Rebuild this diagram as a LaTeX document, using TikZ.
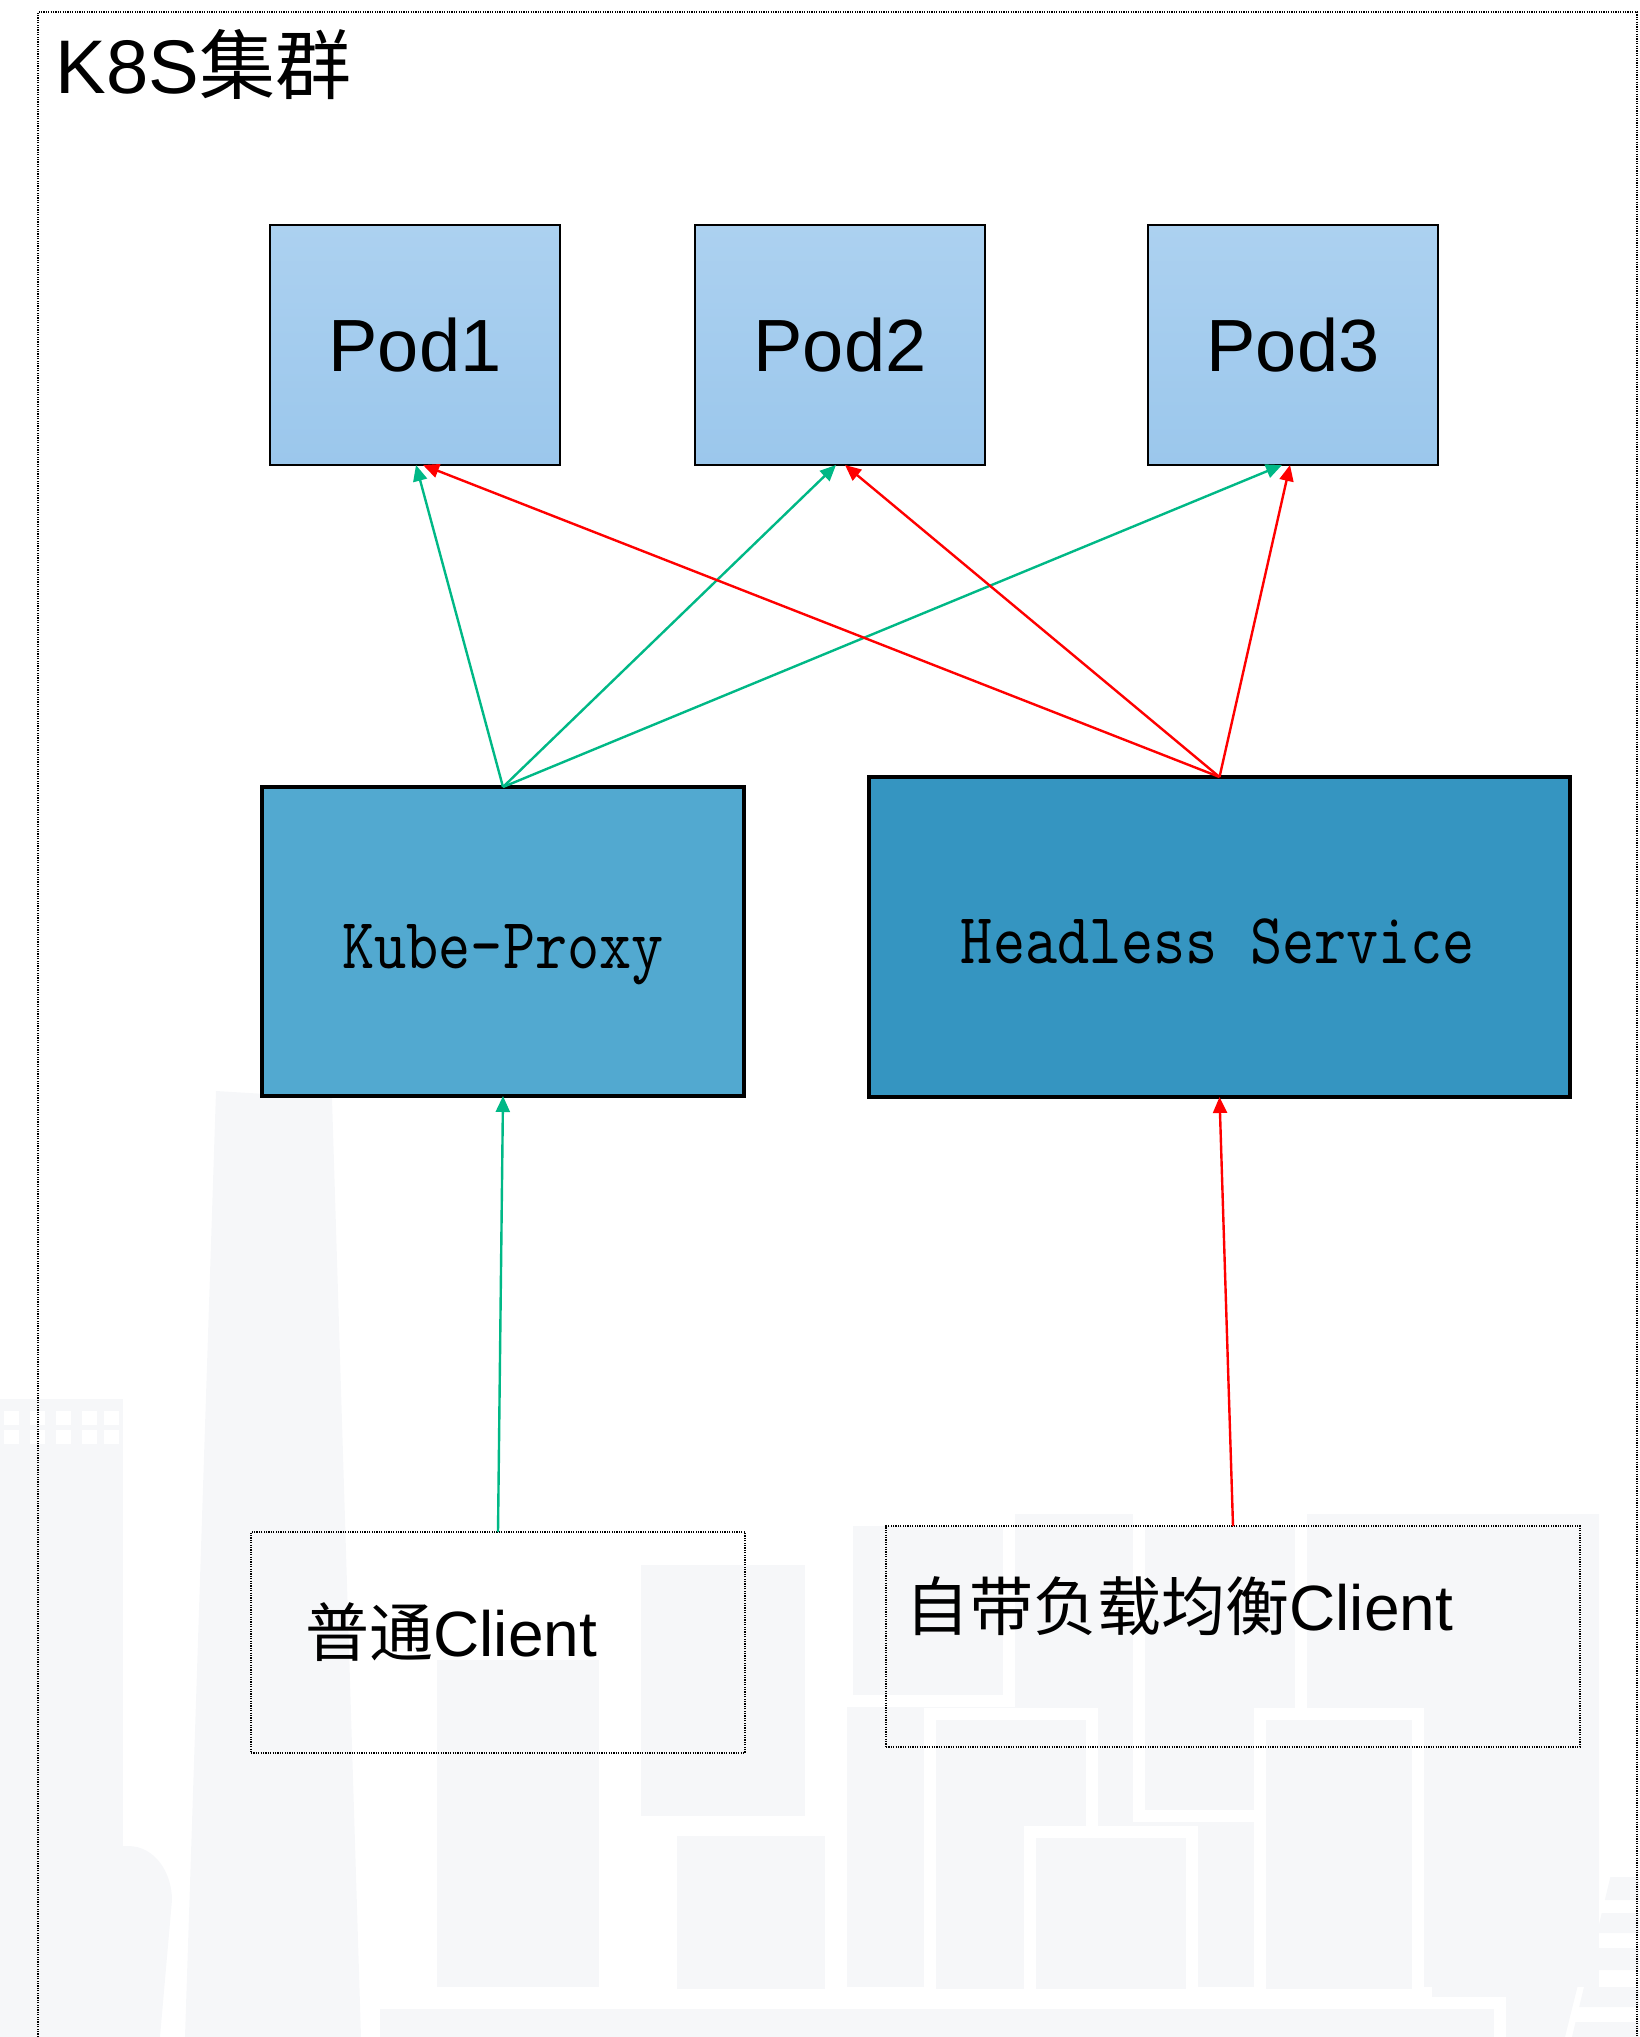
\documentclass[tikz,border=0pt]{standalone}
\usepackage{fontspec}
\setmainfont{Liberation Sans}
\newfontfamily\cjk{Noto Sans CJK SC}
\newfontfamily\narrowmono[Extension=.otf, FakeStretch=0.85]{lmmono10-regular}
\usetikzlibrary{arrows.meta}

\definecolor{podtop}{RGB}{172,209,240}
\definecolor{podbot}{RGB}{155,199,236}
\definecolor{kubefill}{RGB}{82,169,208}
\definecolor{hlfill}{RGB}{53,149,193}
\definecolor{flowgreen}{RGB}{0,184,134}
\definecolor{flowred}{RGB}{255,0,0}
\definecolor{city}{RGB}{246,247,249}

\tikzset{
  cityblock/.style={fill=city, draw=white, line width=6pt},
  podbox/.style={draw=black, line width=0.6pt, top color=podtop, bottom color=podbot,
    minimum width=145pt, minimum height=120pt, inner sep=0pt, outer sep=0pt,
    font=\fontsize{37}{40}\selectfont},
  svcbox/.style={draw=black, line width=1.8pt, inner sep=0pt, outer sep=0pt},
  svctext/.style={anchor=base, inner sep=0pt, font=\narrowmono\fontsize{36}{40}\selectfont},
  clientbox/.style={draw=black, line width=0.7pt, dash pattern=on 0.6pt off 0.6pt,
    inner sep=0pt, outer sep=0pt},
  clienttext/.style={anchor=base west, inner sep=0pt, font=\fontsize{32}{36}\selectfont},
  flow/.style={line width=1.2pt, -{Triangle[length=8pt,width=7pt]}},
}

\begin{document}
\begin{tikzpicture}[x=0.5pt, y={(0pt,-0.5pt)}]
\useasboundingbox (0,0) rectangle (1639,2037);

% ---- faint city skyline in the background ----
\fill[city] (847,1514) rectangle (1599,1987);
\draw[cityblock] (847,1520) rectangle (1009,1701);
\draw[cityblock] (1139,1520) rectangle (1301,1816);
\draw[cityblock] (930,1714) rectangle (1092,1995);
\draw[cityblock] (1030,1832) rectangle (1192,1995);
\draw[cityblock] (1260,1714) rectangle (1418,1995);
\fill[city] (1432,1514) -- (1599,1514) -- (1599,1900) -- (1565,2037) -- (1432,2037) -- cycle;
\fill[city] (641,1565) rectangle (805,1816);
\draw[cityblock] (671,1830) rectangle (831,1995);
\fill[city] (437,1660) rectangle (599,1987);
\draw[cityblock] (374,2003) rectangle (1500,2060);
% tall tower
\fill[city] (216,1091) -- (332,1098) -- (361,2037) -- (185,2037) -- cycle;
% building with a row of windows
\fill[city] (0,1399) rectangle (123,1852);
\foreach \wx in {4,30,56,82,104}{
  \fill[white] (\wx,1411) rectangle ++(15,14);
  \fill[white] (\wx,1430) rectangle ++(15,14);
}
% rounded building at the lower left
\fill[city] (0,1846) -- (128,1846) to[out=0,in=90] (172,1900) -- (160,2037) -- (0,2037) -- cycle;
% striped structure at the lower right
\foreach \ya/\yb in {1877/1900,1913/1933,1948/1970,1987/2007,2022/2037}{
  \fill[city] ({1612-0.24*(\ya-1870)},\ya) -- (1639,\ya) -- (1639,\yb)
              -- ({1612-0.24*(\yb-1870)},\yb) -- cycle;
}

% ---- cluster frame ----
\draw[black, line width=0.75pt, dash pattern=on 0.6pt off 0.6pt]
  (38,2037) -- (38,12) -- (1637,12) -- (1637,2037);
\node[anchor=base west, inner sep=0pt, font=\fontsize{38}{42}\selectfont]
  (title) at (55,94) {K8S{\cjk 集群}};

% ---- pods ----
\node[podbox] (pod1) at (415,345) {Pod1};
\node[podbox] (pod2) at (840,345) {Pod2};
\node[podbox] (pod3) at (1293,345) {Pod3};

% ---- services ----
\node[svcbox, fill=kubefill, minimum width=241pt, minimum height=154.5pt] (kube) at (503,941.5) {};
\node[svctext] (kubelabel) at (503,968) {Kube-Proxy};
\node[svcbox, fill=hlfill, minimum width=350.5pt, minimum height=160pt] (headless) at (1219.5,937) {};
\node[svctext] (headlesslabel) at (1218,963) {Headless Service};

% ---- clients ----
\node[clientbox, minimum width=247pt, minimum height=110.5pt] (client1) at (498,1642.5) {};
\node[clienttext] (client1label) at (305,1656) {{\cjk 普通}Client};
\node[clientbox, minimum width=347pt, minimum height=110.5pt] (client2) at (1233,1636.5) {};
\node[clienttext] (client2label) at (905,1630) {{\cjk 自带负载均衡}Client};

% ---- connectors ----
\draw[flow, flowgreen] (kube.north) -- ([xshift=0.5pt]pod1.south);
\draw[flow, flowgreen] (kube.north) -- ([xshift=-2pt]pod2.south);
\draw[flow, flowgreen] (kube.north) -- ([xshift=-5.5pt]pod3.south);
\draw[flow, flowred] (headless.north) -- ([xshift=4pt]pod1.south);
\draw[flow, flowred] (headless.north) -- ([xshift=2.5pt]pod2.south);
\draw[flow, flowred] (headless.north) -- ([xshift=-1.5pt]pod3.south);
\draw[flow, flowgreen] (client1.north) -- (kube.south);
\draw[flow, flowred] (client2.north) -- (headless.south);
\end{tikzpicture}
\end{document}
